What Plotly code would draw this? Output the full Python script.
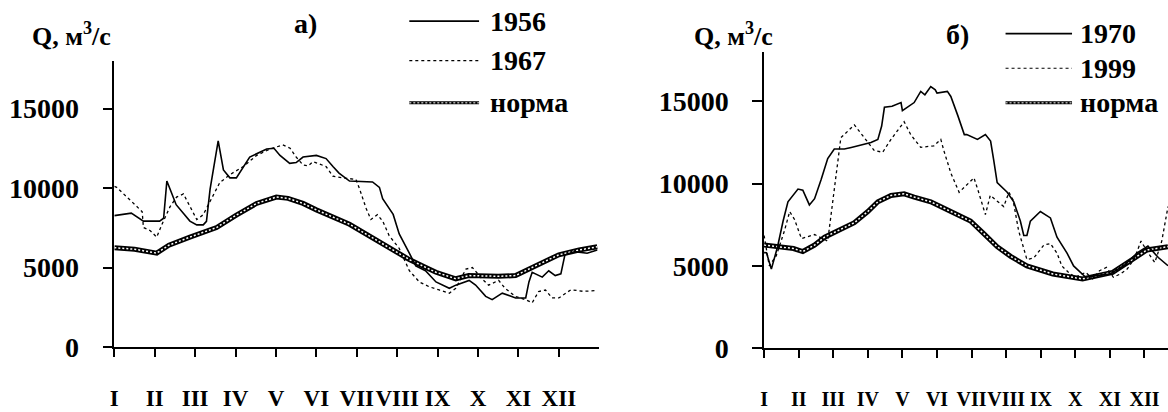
import plotly.graph_objects as go

W, H = 1168, 412

months = ["I", "II", "III", "IV", "V", "VI", "VII", "VIII", "IX", "X", "XI", "XII"]

# ---- panel a) ----
norm_a_m = [0, 0.5, 1.05, 1.35, 1.87, 2.53, 3.02, 3.52, 4.01, 4.3, 4.67, 5.0, 5.82, 6.64, 7.3, 7.71, 7.96,
            8.45, 8.77, 9.5, 9.93, 10.42, 11.0, 11.5, 11.95]
norm_a_q = [6245, 6150, 5905, 6400, 6910, 7515, 8300, 9030, 9430, 9350, 9030, 8625, 7720, 6510, 5500, 5000, 4700,
            4290, 4490, 4450, 4490, 5100, 5800, 6100, 6300]

y1956_m = [0, 0.42, 0.72, 1.12, 1.22, 1.30, 1.4, 1.53, 1.87, 2.04, 2.2, 2.28, 2.37, 2.57, 2.70, 2.86, 3.02, 3.35,
           3.77, 3.95, 4.1, 4.34, 4.5, 4.67, 5.0, 5.24, 5.41, 5.56, 5.82, 6.39, 6.56, 6.64, 6.9, 7.05, 7.3, 7.46,
           7.7, 7.96, 8.29, 8.45, 8.78, 8.94, 9.19, 9.35, 9.6, 9.93, 10.18, 10.26, 10.34, 10.59, 10.75, 10.91,
           11.05, 11.15, 11.4, 11.7, 11.95]
y1956_q = [8265, 8420, 7920, 7920, 8100, 10440, 9800, 8950, 7920, 7680, 7680, 7900, 9935, 12960, 11140, 10640,
           10640, 11950, 12450, 12500, 12050, 11550, 11600, 11950, 12050, 11850, 11350, 10940, 10440, 10380, 10040,
           9330, 8340, 7115, 5905, 5100, 4800, 4090, 3690, 3890, 4190, 3900, 3185, 2980, 3385, 3085, 3085, 4090,
           4700, 4395, 4795, 4490, 4600, 5800, 6000, 5900, 6100]

y1967_m = [0.0, 0.06, 0.52, 0.69, 0.72, 0.89, 1.05, 1.18, 1.38, 1.54, 1.71, 1.87, 2.04, 2.2, 2.37, 2.61, 2.86,
           3.19, 3.52, 3.85, 4.17, 4.35, 4.5, 4.67, 4.8, 4.92, 5.24, 5.41, 5.65, 5.98, 6.07, 6.23, 6.35, 6.51,
           6.64, 6.8, 7.05, 7.3, 7.55, 7.79, 8.04, 8.29, 8.45, 8.7, 8.86, 9.1, 9.26, 9.51, 9.67, 9.92, 10.17,
           10.34, 10.5, 10.67, 10.83, 11.0, 11.3, 11.6, 11.95]
y1967_q = [10100, 10040, 8930, 8510, 7515, 7315, 6910, 7720, 8830, 9430, 9630, 8830, 8020, 8320, 9130, 10340,
           10840, 11350, 12050, 12450, 12710, 12500, 11950, 11450, 11400, 11660, 11350, 10740, 10640, 10540, 9935,
           8725, 8020, 8320, 7920, 7010, 6200, 4800, 4090, 3790, 3585, 3385, 3690, 4900, 5000, 4290, 3890, 4190,
           3690, 3185, 2980, 2780, 3490, 3585, 3085, 3085, 3600, 3500, 3550]

# ---- panel б) ----
norm_b_m = [0, 0.5, 0.85, 1.12, 1.46, 1.75, 2.13, 2.61, 3.0, 3.29, 3.67, 4.05, 4.34, 4.82, 5.4, 5.97, 6.36, 6.74,
            7.13, 7.6, 8.35, 9.21, 10.08, 10.6, 11.07, 11.68]
norm_b_q = [6260, 6160, 6050, 5865, 6260, 6740, 7135, 7620, 8300, 8890, 9280, 9375, 9180, 8890, 8300, 7720, 6940,
            6160, 5570, 4990, 4500, 4200, 4600, 5300, 5960, 6160]

y1970_m = [0, 0.07, 0.21, 0.39, 0.55, 0.69, 0.98, 1.12, 1.31, 1.46, 1.65, 1.84, 2.03, 2.32, 2.52, 2.8, 3.09, 3.29,
           3.4, 3.48, 3.7, 3.96, 4.0, 4.34, 4.53, 4.65, 4.82, 4.95, 5.0, 5.3, 5.4, 5.6, 5.79, 5.86, 6.17, 6.4, 6.55,
           6.64, 6.74, 7.03, 7.22, 7.41, 7.51, 7.6, 7.7, 7.99, 8.28, 8.47, 8.76, 8.95, 9.3, 9.6, 10.0, 10.4, 10.8,
           11.1, 11.4, 11.68]
y1970_q = [5800, 5790, 4795, 6160, 7720, 8890, 9665, 9600, 8700, 9080, 10250, 11520, 12100, 12100, 12200, 12350,
           12500, 12690, 13500, 14640, 14700, 14930, 14440, 14930, 15610, 15400, 15900, 15700, 15510, 15610, 15300,
           14150, 12980, 12980, 12690, 12980, 12590, 11420, 10060, 9470, 8890, 7720, 6840, 6840, 7720, 8300, 7910,
           6740, 5770, 4990, 4300, 4400, 4500, 5000, 5800, 6200, 5500, 5000]

y1999_m = [0, 0.15, 0.35, 0.59, 0.74, 0.88, 1.08, 1.46, 1.84, 2.03, 2.22, 2.61, 2.9, 3.19, 3.43, 3.67, 4.05, 4.24,
           4.53, 4.91, 5.11, 5.2, 5.4, 5.64, 5.8, 6.07, 6.2, 6.4, 6.54, 6.93, 7.08, 7.2, 7.36, 7.6, 7.8, 8.09, 8.28,
           8.47, 8.61, 8.8, 9.0, 9.3, 9.5, 9.7, 9.9, 10.1, 10.3, 10.5, 10.7, 10.9, 11.1, 11.3, 11.5, 11.68]
y1999_q = [6840, 4990, 5600, 7135, 8300, 7820, 6650, 6900, 6500, 9665, 12790, 13570, 12790, 12000, 11910, 12690,
           13760, 12980, 12200, 12300, 12690, 12000, 10640, 9470, 9800, 10350, 9500, 8110, 9280, 8600, 9470, 9000,
           7135, 5380, 5480, 6260, 6350, 5770, 4990, 4600, 4300, 4600, 4200, 4700, 4900, 4300, 4500, 4800, 5400,
           6500, 5800, 5200, 6500, 8600]

y_ticks = [0, 5000, 10000, 15000]
y_ticktext = ["0", "5000", "10000", "15000"]

FONT = "Liberation Serif, Times New Roman, serif"


def px(x):
    return x / W


def py(y):
    return 1 - y / H


fig = go.Figure()


def add_panel(xa, ya, solid_m, solid_q, dot_m, dot_q, norm_m, norm_q, names):
    fig.add_trace(go.Scatter(x=norm_m, y=norm_q, mode="lines", line=dict(color="black", width=5),
                             xaxis=xa, yaxis=ya, showlegend=False, name=names[2]))
    fig.add_trace(go.Scatter(x=norm_m, y=norm_q, mode="lines",
                             line=dict(color="white", width=1.5, dash="2px,2px"),
                             xaxis=xa, yaxis=ya, showlegend=False, hoverinfo="skip"))
    fig.add_trace(go.Scatter(x=solid_m, y=solid_q, mode="lines", line=dict(color="black", width=1.6),
                             xaxis=xa, yaxis=ya, showlegend=False, name=names[0]))
    fig.add_trace(go.Scatter(x=dot_m, y=dot_q, mode="lines", line=dict(color="black", width=1.3, dash="dot"),
                             xaxis=xa, yaxis=ya, showlegend=False, name=names[1]))


add_panel("x", "y", y1956_m, y1956_q, y1967_m, y1967_q, norm_a_m, norm_a_q, ["1956", "1967", "норма"])
add_panel("x2", "y2", y1970_m, y1970_q, y1999_m, y1999_q, norm_b_m, norm_b_q, ["1970", "1999", "норма"])

xcommon = dict(tickmode="array", tickvals=list(range(12)), ticktext=months, tickangle=0, showline=True,
               linecolor="black", linewidth=1.5, ticks="outside", ticklen=8, tickwidth=1.5, tickcolor="black",
               showgrid=False, zeroline=False, ticklabelstandoff=22)
ycommon = dict(tickmode="array", tickvals=y_ticks, ticktext=y_ticktext, range=[0, 18000], showline=True,
               linecolor="black", linewidth=1.5, ticks="outside", ticklen=10, tickwidth=1.5, tickcolor="black",
               showgrid=False, zeroline=False,
               tickfont=dict(family=FONT, size=28, color="black", weight="bold"), ticklabelstandoff=18)

fig.update_layout(
    width=W, height=H, margin=dict(l=0, r=0, t=0, b=0),
    paper_bgcolor="white", plot_bgcolor="white", showlegend=False,
    xaxis=dict(xcommon, domain=[px(110.7), px(597.3)], range=[0, 12], anchor="y",
               tickfont=dict(family=FONT, size=23, color="black", weight="bold")),
    yaxis=dict(ycommon, domain=[py(361), py(63.3)], anchor="x"),
    xaxis2=dict(xcommon, domain=[px(762.7), 1.0], range=[0, (W - 762.7) / 34.7], anchor="y2",
                tickfont=dict(family=FONT, size=20, color="black", weight="bold"), ticklabelstandoff=24),
    yaxis2=dict(ycommon, domain=[py(362), py(54.2)], anchor="x2"),
)

ann = []
txt = dict(family=FONT, size=28, color="black", weight="bold")


def note(x, y, text, xanchor="center", font=txt):
    ann.append(dict(x=px(x), y=py(y), xref="paper", yref="paper", text=text, showarrow=False,
                    xanchor=xanchor, yanchor="middle", font=font))


title_font = dict(family=FONT, size=26, color="black", weight="bold")
note(68, 36, "Q, м<sup>3</sup>/с", font=title_font)
note(732, 36, "Q, м<sup>3</sup>/с", font=title_font)
note(303, 24, "а)")
note(957, 36, "б)")

shapes = []


def legend(x0, x1, xt, ys, labels):
    shapes.append(dict(type="line", xref="paper", yref="paper", x0=px(x0), x1=px(x1), y0=py(ys[0]),
                       y1=py(ys[0]), line=dict(color="black", width=1.6)))
    shapes.append(dict(type="line", xref="paper", yref="paper", x0=px(x0), x1=px(x1), y0=py(ys[1]),
                       y1=py(ys[1]), line=dict(color="black", width=1.2, dash="dot")))
    shapes.append(dict(type="line", xref="paper", yref="paper", x0=px(x0), x1=px(x1), y0=py(ys[2]),
                       y1=py(ys[2]), line=dict(color="black", width=3)))
    shapes.append(dict(type="line", xref="paper", yref="paper", x0=px(x0), x1=px(x1), y0=py(ys[2]),
                       y1=py(ys[2]), line=dict(color="white", width=1, dash="2px,2px")))
    for lab, yy in zip(labels, ys):
        note(xt, yy, lab, xanchor="left")


legend(406.7, 476.7, 486, [22, 63, 107], ["1956", "1967", "норма"])
legend(1005, 1071.7, 1078, [35, 71, 107], ["1970", "1999", "норма"])

fig.update_layout(annotations=ann, shapes=shapes)
fig.write_html("out.html")
